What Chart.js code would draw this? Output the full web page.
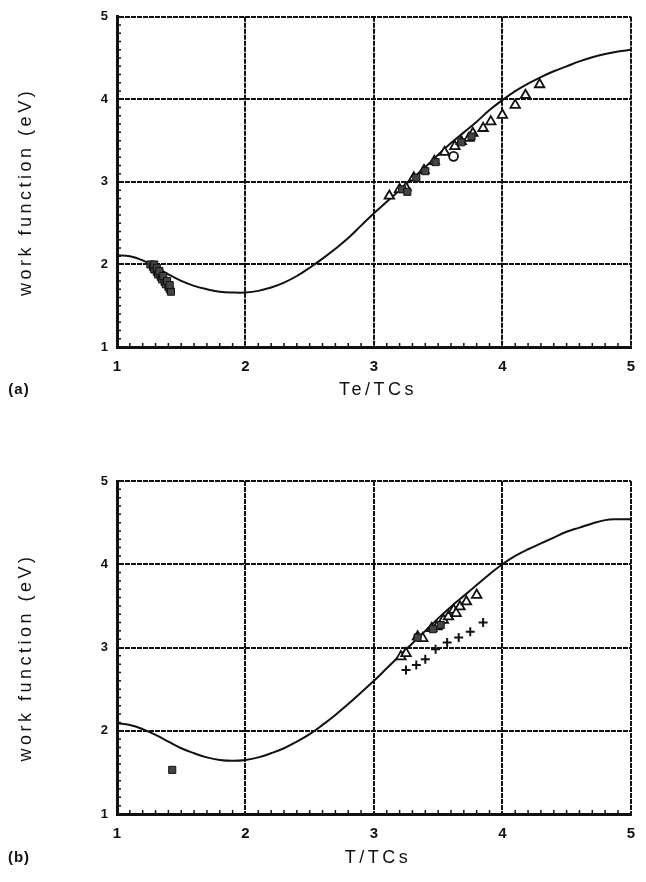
<!DOCTYPE html>
<html>
<head>
<meta charset="utf-8">
<script src="https://cdn.jsdelivr.net/npm/chart.js@4/dist/chart.umd.min.js"></script>
<style>
  html, body { margin: 0; padding: 0; background: #fff; }
  #wrap { position: relative; width: 646px; height: 882px; }
  .box { position: absolute; left: 0; width: 646px; height: 441px; }
</style>
</head>
<body>
<div id="wrap">
  <div class="box" style="top:0"><canvas id="chartA" width="646" height="441"></canvas></div>
  <div class="box" style="top:441px"><canvas id="chartB" width="646" height="441"></canvas></div>
</div>
<script>
// tick values
const xTicks = [1, 2, 3, 4, 5];
const yTicks = [1, 2, 3, 4, 5];

// model curves
const curveX = [1.0, 1.1, 1.2, 1.3, 1.4, 1.5, 1.6, 1.7, 1.8, 1.9, 2.0, 2.1, 2.2, 2.3, 2.4, 2.5, 2.6, 2.7, 2.8, 2.9,
                3.0, 3.1, 3.2, 3.3, 3.4, 3.5, 3.6, 3.7, 3.8, 3.9, 4.0, 4.1, 4.2, 4.3, 4.4, 4.5, 4.6, 4.7, 4.8, 4.9, 5.0];
const curveA = [2.11, 2.10, 2.05, 1.97, 1.88, 1.80, 1.74, 1.70, 1.67, 1.66, 1.66, 1.68, 1.72, 1.78, 1.86, 1.96, 2.07, 2.19, 2.32, 2.47,
                2.62, 2.76, 2.90, 3.04, 3.18, 3.33, 3.47, 3.60, 3.73, 3.87, 3.99, 4.10, 4.19, 4.27, 4.34, 4.40, 4.46, 4.51, 4.55, 4.58, 4.60];
const curveB = [2.09, 2.07, 2.02, 1.95, 1.87, 1.79, 1.73, 1.68, 1.65, 1.64, 1.65, 1.68, 1.73, 1.79, 1.87, 1.96, 2.07, 2.19, 2.32, 2.46,
                2.60, 2.75, 2.90, 3.05, 3.20, 3.35, 3.49, 3.62, 3.75, 3.88, 4.00, 4.10, 4.18, 4.25, 4.32, 4.39, 4.44, 4.49, 4.53, 4.54, 4.54];

// panel (a) measurements
const sqAx = [1.26, 1.28, 1.29, 1.31, 1.32, 1.34, 1.35, 1.37, 1.38, 1.40, 1.41, 1.42, 1.29, 1.31, 1.33, 1.36, 1.39, 1.41,
              3.22, 3.26, 3.33, 3.40, 3.48, 3.68, 3.76];
const sqAy = [2.00, 1.97, 1.94, 1.91, 1.88, 1.85, 1.82, 1.79, 1.76, 1.73, 1.70, 1.67, 2.00, 1.96, 1.92, 1.86, 1.80, 1.75,
              2.91, 2.88, 3.05, 3.13, 3.24, 3.48, 3.55];
const triAx = [3.12, 3.20, 3.25, 3.31, 3.39, 3.47, 3.55, 3.63, 3.68, 3.74, 3.77, 3.85, 3.91, 4.00, 4.10, 4.18, 4.29];
const triAy = [2.83, 2.91, 2.93, 3.05, 3.14, 3.25, 3.36, 3.43, 3.49, 3.53, 3.59, 3.65, 3.73, 3.81, 3.93, 4.05, 4.18];
const circAx = [3.62];
const circAy = [3.31];

// panel (b) measurements
const sqBx = [1.43, 3.34, 3.46, 3.52];
const sqBy = [1.53, 3.12, 3.22, 3.27];
const triBx = [3.21, 3.25, 3.34, 3.38, 3.45, 3.49, 3.54, 3.58, 3.62, 3.64, 3.67, 3.72, 3.80];
const triBy = [2.89, 2.93, 3.13, 3.11, 3.23, 3.25, 3.33, 3.37, 3.45, 3.41, 3.49, 3.55, 3.63];
const crossBx = [3.25, 3.33, 3.40, 3.48, 3.57, 3.66, 3.75, 3.85];
const crossBy = [2.73, 2.79, 2.86, 2.98, 3.06, 3.12, 3.19, 3.30];

const FONT = '"Liberation Sans", Arial, sans-serif';
const INK = '#111';

function pts(xs, ys) {
    return xs.map((x, i) => ({ x: x, y: ys[i] }));
}

function curveSet(ys) {
    return {
        data: pts(curveX, ys),
        showLine: true,
        borderColor: INK,
        borderWidth: 2,
        pointRadius: 0,
        tension: 0.4,
        order: 5
    };
}

function markerSet(xs, ys, style, fill, radius, width) {
    return {
        data: pts(xs, ys),
        showLine: false,
        pointStyle: style,
        pointRadius: radius,
        backgroundColor: fill,
        borderColor: INK,
        borderWidth: width,
        order: 1
    };
}

// minor ticks, axis titles and panel letter
const decor = {
    id: 'decor',
    afterDraw(chart, args, opts) {
        const ctx = chart.ctx;
        const xs = chart.scales.x, ys = chart.scales.y;
        const a = chart.chartArea;
        ctx.save();
        ctx.strokeStyle = INK;
        ctx.lineWidth = 1.5;
        ctx.beginPath();
        for (let i = 11; i < 50; i++) {
            if (i % 10 === 0) continue;
            const v = i / 10;
            const px = xs.getPixelForValue(v);
            ctx.moveTo(px, a.bottom);
            ctx.lineTo(px, a.bottom - 4);
            const py = ys.getPixelForValue(v);
            ctx.moveTo(a.left, py);
            ctx.lineTo(a.left + 4, py);
        }
        ctx.stroke();

        ctx.fillStyle = INK;
        ctx.letterSpacing = '3.5px';
        ctx.font = '18px ' + FONT;
        ctx.textAlign = 'center';
        ctx.textBaseline = 'middle';
        ctx.fillText(opts.xTitle, 378, opts.titleY);
        ctx.save();
        ctx.translate(26, (a.top + a.bottom) / 2 + 10);
        ctx.rotate(-Math.PI / 2);
        ctx.fillText('work function (eV)', 0, 0);
        ctx.restore();
        ctx.letterSpacing = '1px';
        ctx.font = 'bold 15px ' + FONT;
        ctx.fillText(opts.panel, 19, opts.titleY);
        ctx.restore();
    }
};

function makeChart(id, datasets, top, axisH, xTitle, panel, titleY) {
    return new Chart(document.getElementById(id), {
        type: 'scatter',
        data: { datasets: datasets },
        options: {
            responsive: false,
            animation: false,
            layout: { padding: { left: 0, right: 5, top: top, bottom: 0 } },
            plugins: {
                legend: { display: false },
                tooltip: { enabled: false },
                decor: { xTitle: xTitle, panel: panel, titleY: titleY }
            },
            scales: {
                x: {
                    type: 'linear',
                    min: 1,
                    max: 5,
                    afterBuildTicks: (s) => { s.ticks = xTicks.map(v => ({ value: v })); },
                    afterFit: (s) => { s.height = axisH; },
                    ticks: { color: INK, padding: 11, font: { family: FONT, size: 15, weight: 'bold' } },
                    grid: { color: INK, lineWidth: 2, borderDash: [4, 1], drawTicks: false },
                    border: { color: INK, width: 3, dash: [5, 1] }
                },
                y: {
                    type: 'linear',
                    min: 1,
                    max: 5,
                    afterBuildTicks: (s) => { s.ticks = yTicks.map(v => ({ value: v })); },
                    afterFit: (s) => { s.width = 117; },
                    ticks: { color: INK, padding: 9, font: { family: FONT, size: 13, weight: 'bold' } },
                    grid: { color: INK, lineWidth: 2, borderDash: [4, 1], drawTicks: false },
                    border: { color: INK, width: 3, dash: [5, 1] }
                }
            }
        },
        plugins: [decor]
    });
}

makeChart('chartA', [
    curveSet(curveA),
    markerSet(sqAx, sqAy, 'rect', '#444', 5, 1),
    markerSet(triAx, triAy, 'triangle', '#fff', 5.5, 1.8),
    markerSet(circAx, circAy, 'circle', '#fff', 4.5, 1.8)
], 15, 94, 'Te/TCs', '(a)', 390);

makeChart('chartB', [
    curveSet(curveB),
    markerSet(sqBx, sqBy, 'rect', '#444', 5, 1),
    markerSet(triBx, triBy, 'triangle', '#fff', 5.5, 1.8),
    markerSet(crossBx, crossBy, 'cross', '#fff', 4.5, 2)
], 40, 68, 'T/TCs', '(b)', 417);
</script>
</body>
</html>
